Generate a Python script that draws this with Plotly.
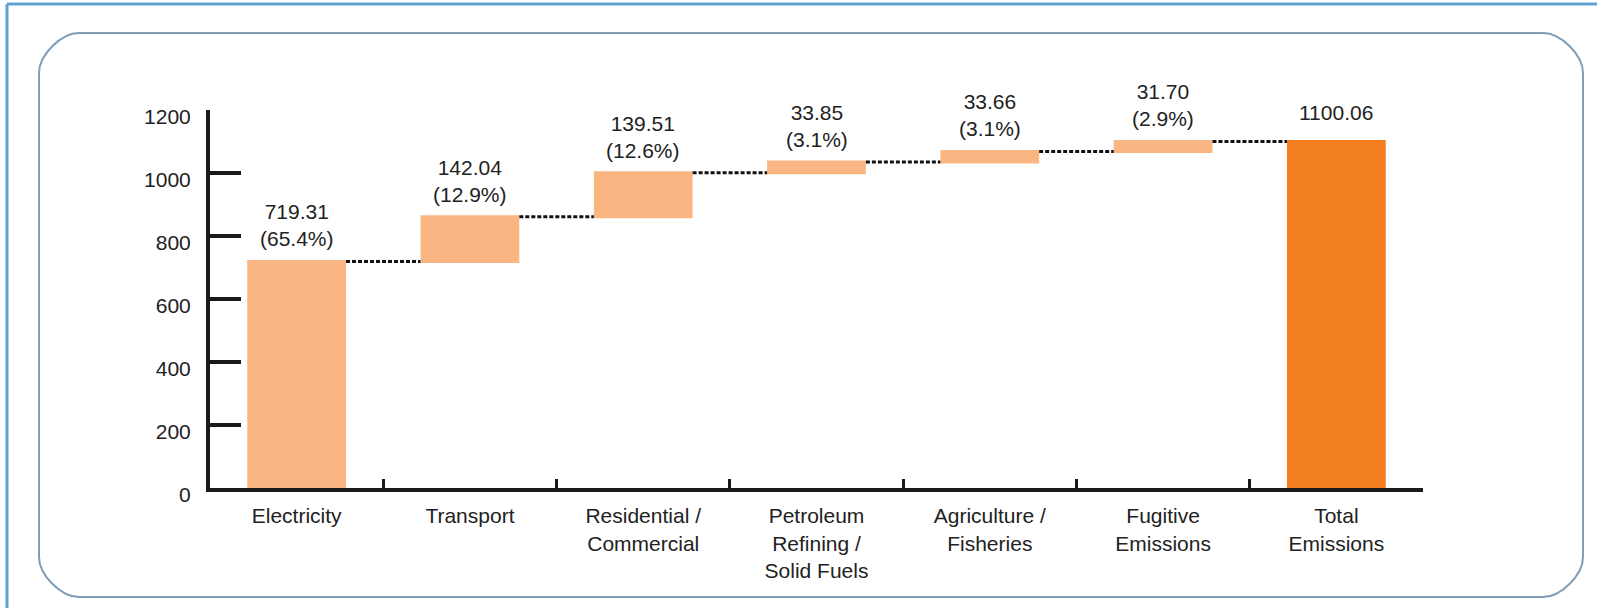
import plotly.graph_objects as go

categories = ["Electricity", "Transport", "Residential /<br>Commercial",
              "Petroleum<br>Refining /<br>Solid Fuels", "Agriculture /<br>Fisheries",
              "Fugitive<br>Emissions", "Total<br>Emissions"]
values = [719.31, 142.04, 139.51, 33.85, 33.66, 31.70]
shares = ["65.4%", "12.9%", "12.6%", "3.1%", "3.1%", "2.9%"]
total_value = 1100.06
y_ticks = [0, 200, 400, 600, 800, 1000, 1200]

W, H = 1597, 608
L, R, T, B = 210, 1423, 110, 488  # plot area in pixels
FONT = "Liberation Sans, Arial, sans-serif"

texts = [f"{v:.2f}<br>({s})" for v, s in zip(values, shares)] + [f"{total_value:.2f}"]
tops = []
acc = 0.0
for v in values:
    acc += v
    tops.append(acc)
tops.append(total_value)
shifts = [9] * len(values) + [15]

fig = go.Figure(go.Waterfall(
    x=categories,
    y=values + [None],
    measure=["relative"] * len(values) + ["total"],
    textposition="none",
    increasing=dict(marker=dict(color="#F9B683")),
    totals=dict(marker=dict(color="#F47F21")),
    connector=dict(mode="between", line=dict(color="#111111", width=3, dash="4px,2px")),
    hoverinfo="skip",
))

annotations = [
    dict(x=c, y=t, text=tx, xref="x", yref="y", showarrow=False,
         yanchor="bottom", xanchor="center", yshift=s,
         font=dict(family=FONT, size=21, color="#222222"))
    for c, t, tx, s in zip(categories, tops, texts, shifts)
]

def px(x):
    return (x - L) / (R - L)

def py(y):
    return (B - y) / (B - T)

# rounded frame
x0, x1, y0, y1, r = 39, 1583, 33, 597, 40
k = 0.45 * r
path = (
    f"M {px(x0 + r)},{py(y0)} L {px(x1 - r)},{py(y0)} "
    f"C {px(x1 - r + k)},{py(y0)} {px(x1)},{py(y0 + r - k)} {px(x1)},{py(y0 + r)} "
    f"L {px(x1)},{py(y1 - r)} "
    f"C {px(x1)},{py(y1 - r + k)} {px(x1 - r + k)},{py(y1)} {px(x1 - r)},{py(y1)} "
    f"L {px(x0 + r)},{py(y1)} "
    f"C {px(x0 + r - k)},{py(y1)} {px(x0)},{py(y1 - r + k)} {px(x0)},{py(y1 - r)} "
    f"L {px(x0)},{py(y0 + r)} "
    f"C {px(x0)},{py(y0 + r - k)} {px(x0 + r - k)},{py(y0)} {px(x0 + r)},{py(y0)} Z"
)
shapes = [
    dict(type="path", xref="paper", yref="paper", path=path,
         line=dict(color="#7F9DB6", width=2), layer="below"),
    dict(type="line", xref="paper", yref="paper", x0=px(7), x1=px(W + 5), y0=py(4), y1=py(4),
         line=dict(color="#5FA2D2", width=3)),
    dict(type="line", xref="paper", yref="paper", x0=px(7), x1=px(7), y0=py(4), y1=py(H + 5),
         line=dict(color="#5FA2D2", width=3)),
]

fig.update_layout(
    width=W, height=H,
    margin=dict(l=L, r=W - R, t=T, b=H - B, pad=0),
    paper_bgcolor="white", plot_bgcolor="white",
    showlegend=False,
    waterfallgap=0.43,
    font=dict(family=FONT, size=20, color="#222222"),
    shapes=shapes,
    annotations=annotations,
    xaxis=dict(
        type="category", showline=True, linecolor="#1a1a1a", linewidth=4,
        ticks="inside", tickson="boundaries", ticklen=9, tickwidth=3, tickcolor="#1a1a1a",
        showgrid=False, zeroline=False, ticklabelstandoff=6,
        tickfont=dict(size=21, color="#222222"),
    ),
    yaxis=dict(
        range=[0, 1200], tickvals=y_ticks, showline=True, linecolor="#1a1a1a", linewidth=4,
        ticks="inside", ticklen=31, tickwidth=4, tickcolor="#1a1a1a",
        showgrid=False, zeroline=False, ticklabelstandoff=11, ticklabelshift=7,
        tickfont=dict(size=21, color="#222222"),
    ),
)

fig.write_html("out.html")
